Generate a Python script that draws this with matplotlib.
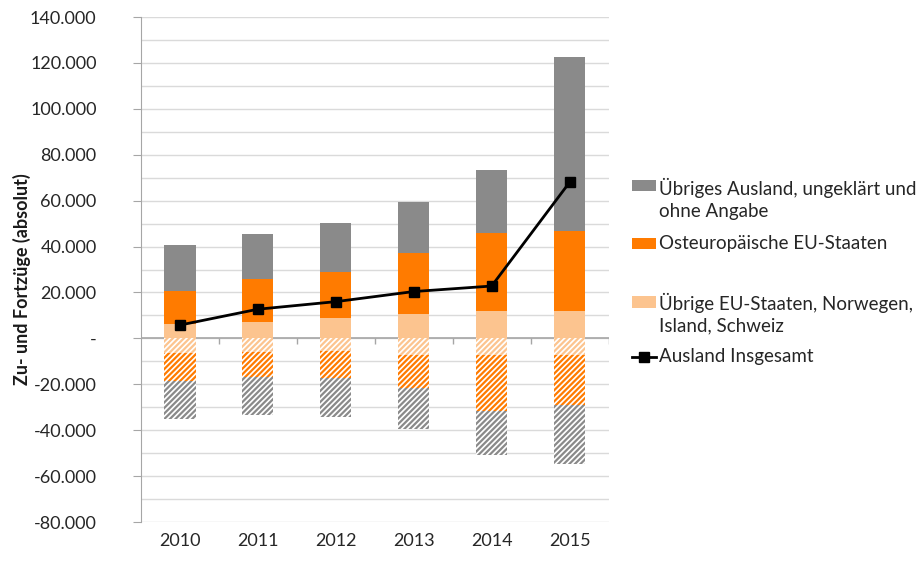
import matplotlib.pyplot as plt
import matplotlib.patches as mpatches
from matplotlib.lines import Line2D
from matplotlib.ticker import FuncFormatter, MultipleLocator
import numpy as np

plt.rcParams['font.family'] = ['Lato', 'DejaVu Sans']
plt.rcParams['hatch.linewidth'] = 1.6

years = ['2010', '2011', '2012', '2013', '2014', '2015']

# Zuzüge (positiv), gestapelt von unten nach oben
zu_eu_rest = [6300, 7100, 8800, 10600, 11900, 11800]
zu_osteuropa = [14500, 18600, 20300, 26700, 34000, 35000]
zu_uebrige = [19900, 19700, 21300, 22300, 27500, 75700]

# Fortzüge (negativ), gestapelt von 0 nach unten
fort_eu_rest = [-6200, -5800, -5400, -7200, -7200, -7200]
fort_osteuropa = [-12200, -11200, -12000, -14500, -24300, -21800]
fort_uebrige = [-16700, -16400, -17000, -17900, -19300, -25700]

# Saldo Ausland insgesamt
saldo = [5800, 12700, 16000, 20400, 22800, 68000]

labels = ['Übriges Ausland, ungeklärt und\nohne Angabe',
          'Osteuropäische EU-Staaten',
          'Übrige EU-Staaten, Norwegen,\nIsland, Schweiz',
          'Ausland Insgesamt']

c_grey = '#8a8a8a'
c_orange = '#ff7b00'
c_light = '#fcc48f'
fs = 13

fig = plt.figure(figsize=(9.24, 5.63), dpi=100)
ax = fig.add_axes([0.1526, 0.0728, 0.506, 0.897])

x = np.arange(len(years))
w = 0.4

# positive Stapel
b1 = np.array(zu_eu_rest)
b2 = b1 + np.array(zu_osteuropa)
ax.bar(x, zu_eu_rest, w, color=c_light, zorder=2)
ax.bar(x, zu_osteuropa, w, bottom=b1, color=c_orange, zorder=2)
ax.bar(x, zu_uebrige, w, bottom=b2, color=c_grey, zorder=2)

# negative Stapel, schraffiert
n1 = np.array(fort_eu_rest)
n2 = n1 + np.array(fort_osteuropa)
for vals, bot, col in [(fort_eu_rest, 0, c_light),
                       (fort_osteuropa, n1, c_orange),
                       (fort_uebrige, n2, c_grey)]:
    ax.bar(x, vals, w, bottom=bot, facecolor='white', edgecolor=col,
           hatch='//////', linewidth=0, zorder=2)

ax.plot(x, saldo, color='black', lw=2, marker='s', markersize=7, zorder=4)

ax.set_xlim(-0.5, len(years) - 0.5)
ax.set_ylim(-80000, 140000)

# Gitterlinien alle 10.000
ax.yaxis.set_major_locator(MultipleLocator(20000))
ax.yaxis.set_minor_locator(MultipleLocator(10000))
ax.grid(axis='y', which='both', color='#dadada', lw=1, zorder=0)
ax.set_axisbelow(True)

def de_fmt(v, pos):
    if abs(v) < 1:
        return '-'
    return f'{v:,.0f}'.replace(',', '.')

ax.yaxis.set_major_formatter(FuncFormatter(de_fmt))
ax.tick_params(axis='y', which='major', length=6, color='#a6a6a6',
               labelsize=fs, labelcolor='#262626', pad=26)
ax.tick_params(axis='y', which='minor', length=0)

ax.set_xticks(x)
ax.set_xticklabels(years)
ax.tick_params(axis='x', length=0, labelsize=fs, labelcolor='#262626', pad=8)

for s in ['top', 'right', 'bottom']:
    ax.spines[s].set_visible(False)
ax.spines['left'].set_color('#a6a6a6')

# Nulllinie mit Kategorietrennstrichen
ax.axhline(0, color='#a6a6a6', lw=1.2, zorder=1)
ax.vlines(np.arange(len(years)) + 0.5, -2500, 0, color='#a6a6a6', lw=1, zorder=1)

ax.set_ylabel('Zu- und Fortzüge (absolut)', fontsize=fs, fontweight='bold',
              color='#1a1a1a', va='center')
ax.yaxis.set_label_coords(-0.255, 0.48)

# Legende rechts
leg_x = 0.684
txt_x = 0.713
pw, ph = 0.026, 0.02
entries = [(0.671, 0.647, c_grey, 'patch'),
           (0.568, 0.568, c_orange, 'patch'),
           (0.4636, 0.443, c_light, 'patch'),
           (0.366, 0.366, 'black', 'line')]
for (py, ty, col, kind), lab in zip(entries, labels):
    if kind == 'patch':
        fig.patches.append(mpatches.Rectangle((leg_x, py - ph / 2), pw, ph,
                                              transform=fig.transFigure,
                                              facecolor=col, edgecolor='none'))
    else:
        fig.lines.append(Line2D([leg_x, leg_x + pw], [py, py],
                                transform=fig.transFigure, color='black', lw=2))
        fig.lines.append(Line2D([leg_x + pw / 2], [py], transform=fig.transFigure,
                                color='black', marker='s', markersize=7))
    fig.text(txt_x, ty, lab, fontsize=13.5, color='#262626', va='center',
             linespacing=1.35, transform=fig.transFigure)

plt.savefig('out.png', dpi=100)
